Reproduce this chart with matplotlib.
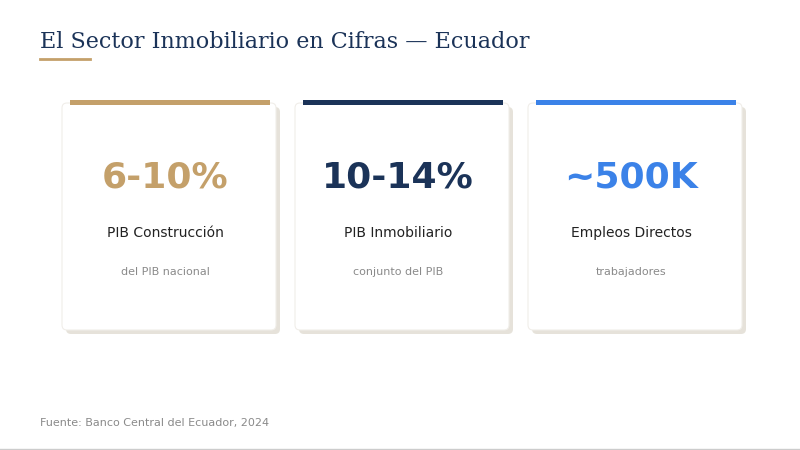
import matplotlib
matplotlib.use("Agg")
import matplotlib.pyplot as plt
from matplotlib.patches import Rectangle, FancyBboxPatch

values = ["6-10%", "10-14%", "~500K"]
labels = ["PIB Construcción", "PIB Inmobiliario", "Empleos Directos"]
sublabels = ["del PIB nacional", "conjunto del PIB", "trabajadores"]
colors = ["#c4a06a", "#1b3358", "#3b82e8"]
title = "El Sector Inmobiliario en Cifras — Ecuador"
source = "Fuente: Banco Central del Ecuador, 2024"

fig = plt.figure(figsize=(8, 4.5), dpi=100)
ax = fig.add_axes([0, 0, 1, 1])
ax.set_xlim(0, 800); ax.set_ylim(450, 0); ax.axis("off")

ax.text(40, 42, title, fontsize=16, family="DejaVu Serif", color="#1b3358", va="center")
ax.plot([40, 90], [59, 59], color="#c4a06a", lw=2)

lefts = [62, 295, 528]
w, top, h = 214, 103, 227
for x0, v, lab, sub, c in zip(lefts, values, labels, sublabels, colors):
    ax.add_patch(FancyBboxPatch((x0 + 4, top + 4), w, h, boxstyle="round,pad=0,rounding_size=5",
                                fc="#e6e2da", ec="none", zorder=1))
    ax.add_patch(FancyBboxPatch((x0, top), w, h, boxstyle="round,pad=0,rounding_size=5",
                                fc="white", ec="#f0eee9", lw=0.8, zorder=2))
    ax.add_patch(Rectangle((x0 + 8, 99.5), w - 14, 5, fc=c, ec="none", zorder=3))
    cx = x0 + w / 2 - 4
    ax.text(cx, 177, v, fontsize=26, fontweight="bold", color=c, ha="center", va="center", zorder=4)
    ax.text(cx, 233, lab, fontsize=10, color="#222222", ha="center", va="center", zorder=4)
    ax.text(cx, 272, sub, fontsize=8, color="#8a8a8a", ha="center", va="center", zorder=4)

ax.text(40, 423, source, fontsize=8, color="#8a8a8a", va="center")
ax.plot([0, 800], [449, 449], color="#cccccc", lw=1)

fig.savefig("out.png", dpi=100, facecolor="white")
